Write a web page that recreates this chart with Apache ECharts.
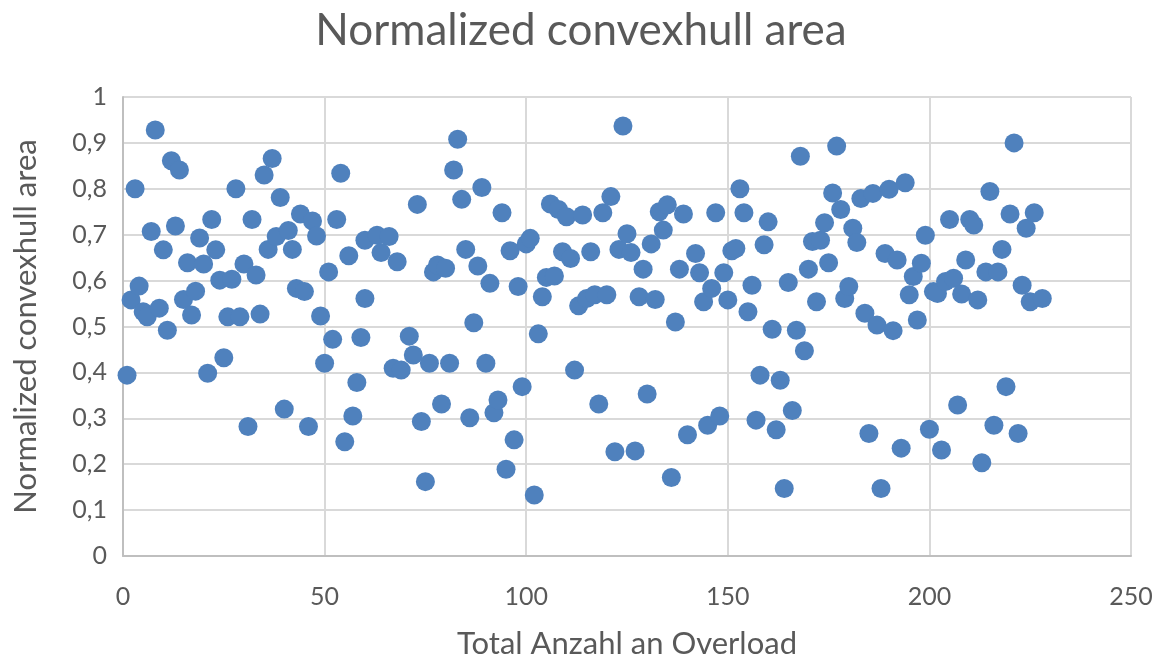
<!DOCTYPE html>
<html>
<head>
<meta charset="utf-8">
<script src="https://cdn.jsdelivr.net/npm/echarts@6/dist/echarts.min.js"></script>
<style>html,body{margin:0;padding:0;background:#fff}#c{width:1162px;height:661px}</style>
</head>
<body>
<div id="c"></div>
<script>
const titleText = 'Normalized convexhull area';
const xAxisName = 'Total Anzahl an Overload';
const yAxisName = 'Normalized convexhull area';
const xValues = [1,2,3,4,5,6,7,8,9,10,11,12,13,14,15,16,17,18,19,20,21,22,23,24,25,26,27,28,29,30,31,32,33,34,35,36,37,38,39,40,41,42,43,44,45,46,47,48,49,50,51,52,53,54,55,56,57,58,59,60,60,63,64,66,67,68,69,71,72,73,74,75,76,77,78,79,80,81,82,83,84,85,86,87,88,89,90,91,92,93,94,95,96,97,98,99,100,101,102,103,104,105,106,107,108,109,110,111,112,113,114,115,116,117,118,119,120,121,122,123,124,125,126,127,128,129,130,131,132,133,134,135,136,137,138,139,140,142,143,144,145,146,147,148,149,150,151,152,153,154,155,156,157,158,159,160,161,162,163,164,165,166,167,168,169,170,171,172,173,174,175,176,177,178,179,180,181,182,183,184,185,186,187,188,189,190,191,192,193,194,195,196,197,198,199,200,201,202,203,204,205,206,207,208,209,210,211,212,213,214,215,216,217,218,219,220,221,222,223,224,225,226,228];
const yValues = [0.394,0.558,0.80,0.588,0.532,0.521,0.707,0.928,0.540,0.667,0.492,0.861,0.719,0.841,0.559,0.639,0.525,0.577,0.693,0.636,0.398,0.733,0.667,0.601,0.432,0.521,0.603,0.80,0.521,0.636,0.282,0.733,0.612,0.527,0.830,0.668,0.866,0.696,0.781,0.320,0.709,0.668,0.583,0.745,0.576,0.282,0.730,0.697,0.523,0.420,0.619,0.472,0.733,0.834,0.249,0.654,0.305,0.378,0.476,0.688,0.561,0.699,0.661,0.696,0.409,0.641,0.405,0.479,0.438,0.766,0.293,0.162,0.420,0.619,0.634,0.331,0.627,0.420,0.841,0.908,0.777,0.668,0.301,0.508,0.632,0.803,0.420,0.594,0.312,0.340,0.748,0.189,0.665,0.253,0.587,0.369,0.680,0.692,0.133,0.484,0.565,0.607,0.767,0.610,0.755,0.663,0.739,0.648,0.405,0.545,0.743,0.561,0.663,0.569,0.331,0.748,0.569,0.783,0.227,0.668,0.937,0.702,0.661,0.229,0.565,0.625,0.353,0.680,0.559,0.750,0.710,0.765,0.171,0.510,0.625,0.745,0.264,0.659,0.617,0.554,0.285,0.583,0.748,0.305,0.617,0.558,0.665,0.670,0.800,0.748,0.532,0.590,0.296,0.394,0.678,0.728,0.494,0.275,0.383,0.147,0.596,0.317,0.492,0.871,0.447,0.625,0.685,0.554,0.688,0.726,0.639,0.791,0.893,0.755,0.561,0.587,0.714,0.683,0.779,0.529,0.267,0.790,0.503,0.147,0.659,0.799,0.491,0.645,0.235,0.813,0.569,0.609,0.514,0.638,0.699,0.276,0.576,0.572,0.231,0.598,0.733,0.605,0.329,0.571,0.645,0.733,0.721,0.558,0.203,0.619,0.794,0.285,0.619,0.668,0.369,0.745,0.900,0.267,0.590,0.714,0.554,0.748,0.561];

const points = xValues.map((x, i) => [x, yValues[i]]);
const chart = echarts.init(document.getElementById('c'), null, {renderer: 'canvas'});
const txt = '#595959';
const font = 'Lato, "Open Sans", sans-serif';
chart.setOption({
  animation: false,
  backgroundColor: '#fff',
  title: {
    text: titleText, left: 'center', top: 4,
    textStyle: {fontFamily: font, fontSize: 44, fontWeight: 'normal', color: txt}
  },
  grid: {left: 123, right: 31, top: 97, bottom: 105, containLabel: false, outerBoundsMode: 'none'},
  xAxis: {
    type: 'value', min: 0, max: 250, interval: 50,
    name: xAxisName, nameLocation: 'middle', nameGap: 72,
    nameTextStyle: {fontFamily: font, fontSize: 31, color: txt},
    axisLine: {show: true, lineStyle: {color: '#bfbfbf', width: 2}},
    axisTick: {show: false},
    axisLabel: {fontFamily: font, fontSize: 25, color: txt, margin: 28},
    splitLine: {show: true, lineStyle: {color: '#d9d9d9', width: 2}}
  },
  yAxis: {
    type: 'value', min: 0, max: 1, interval: 0.1,
    name: yAxisName, nameLocation: 'middle', nameGap: 82,
    nameTextStyle: {fontFamily: font, fontSize: 31, color: txt},
    axisLine: {show: true, lineStyle: {color: '#bfbfbf', width: 2}},
    axisTick: {show: false},
    axisLabel: {fontFamily: font, fontSize: 25, color: txt, margin: 16,
      formatter: v => String(Math.round(v * 10) / 10).replace('.', ',')},
    splitLine: {show: true, lineStyle: {color: '#d9d9d9', width: 2}}
  },
  series: [{
    type: 'scatter', data: points, symbol: 'circle', symbolSize: 19,
    itemStyle: {color: '#4F81BD', opacity: 1}
  }]
});
</script>
</body>
</html>
